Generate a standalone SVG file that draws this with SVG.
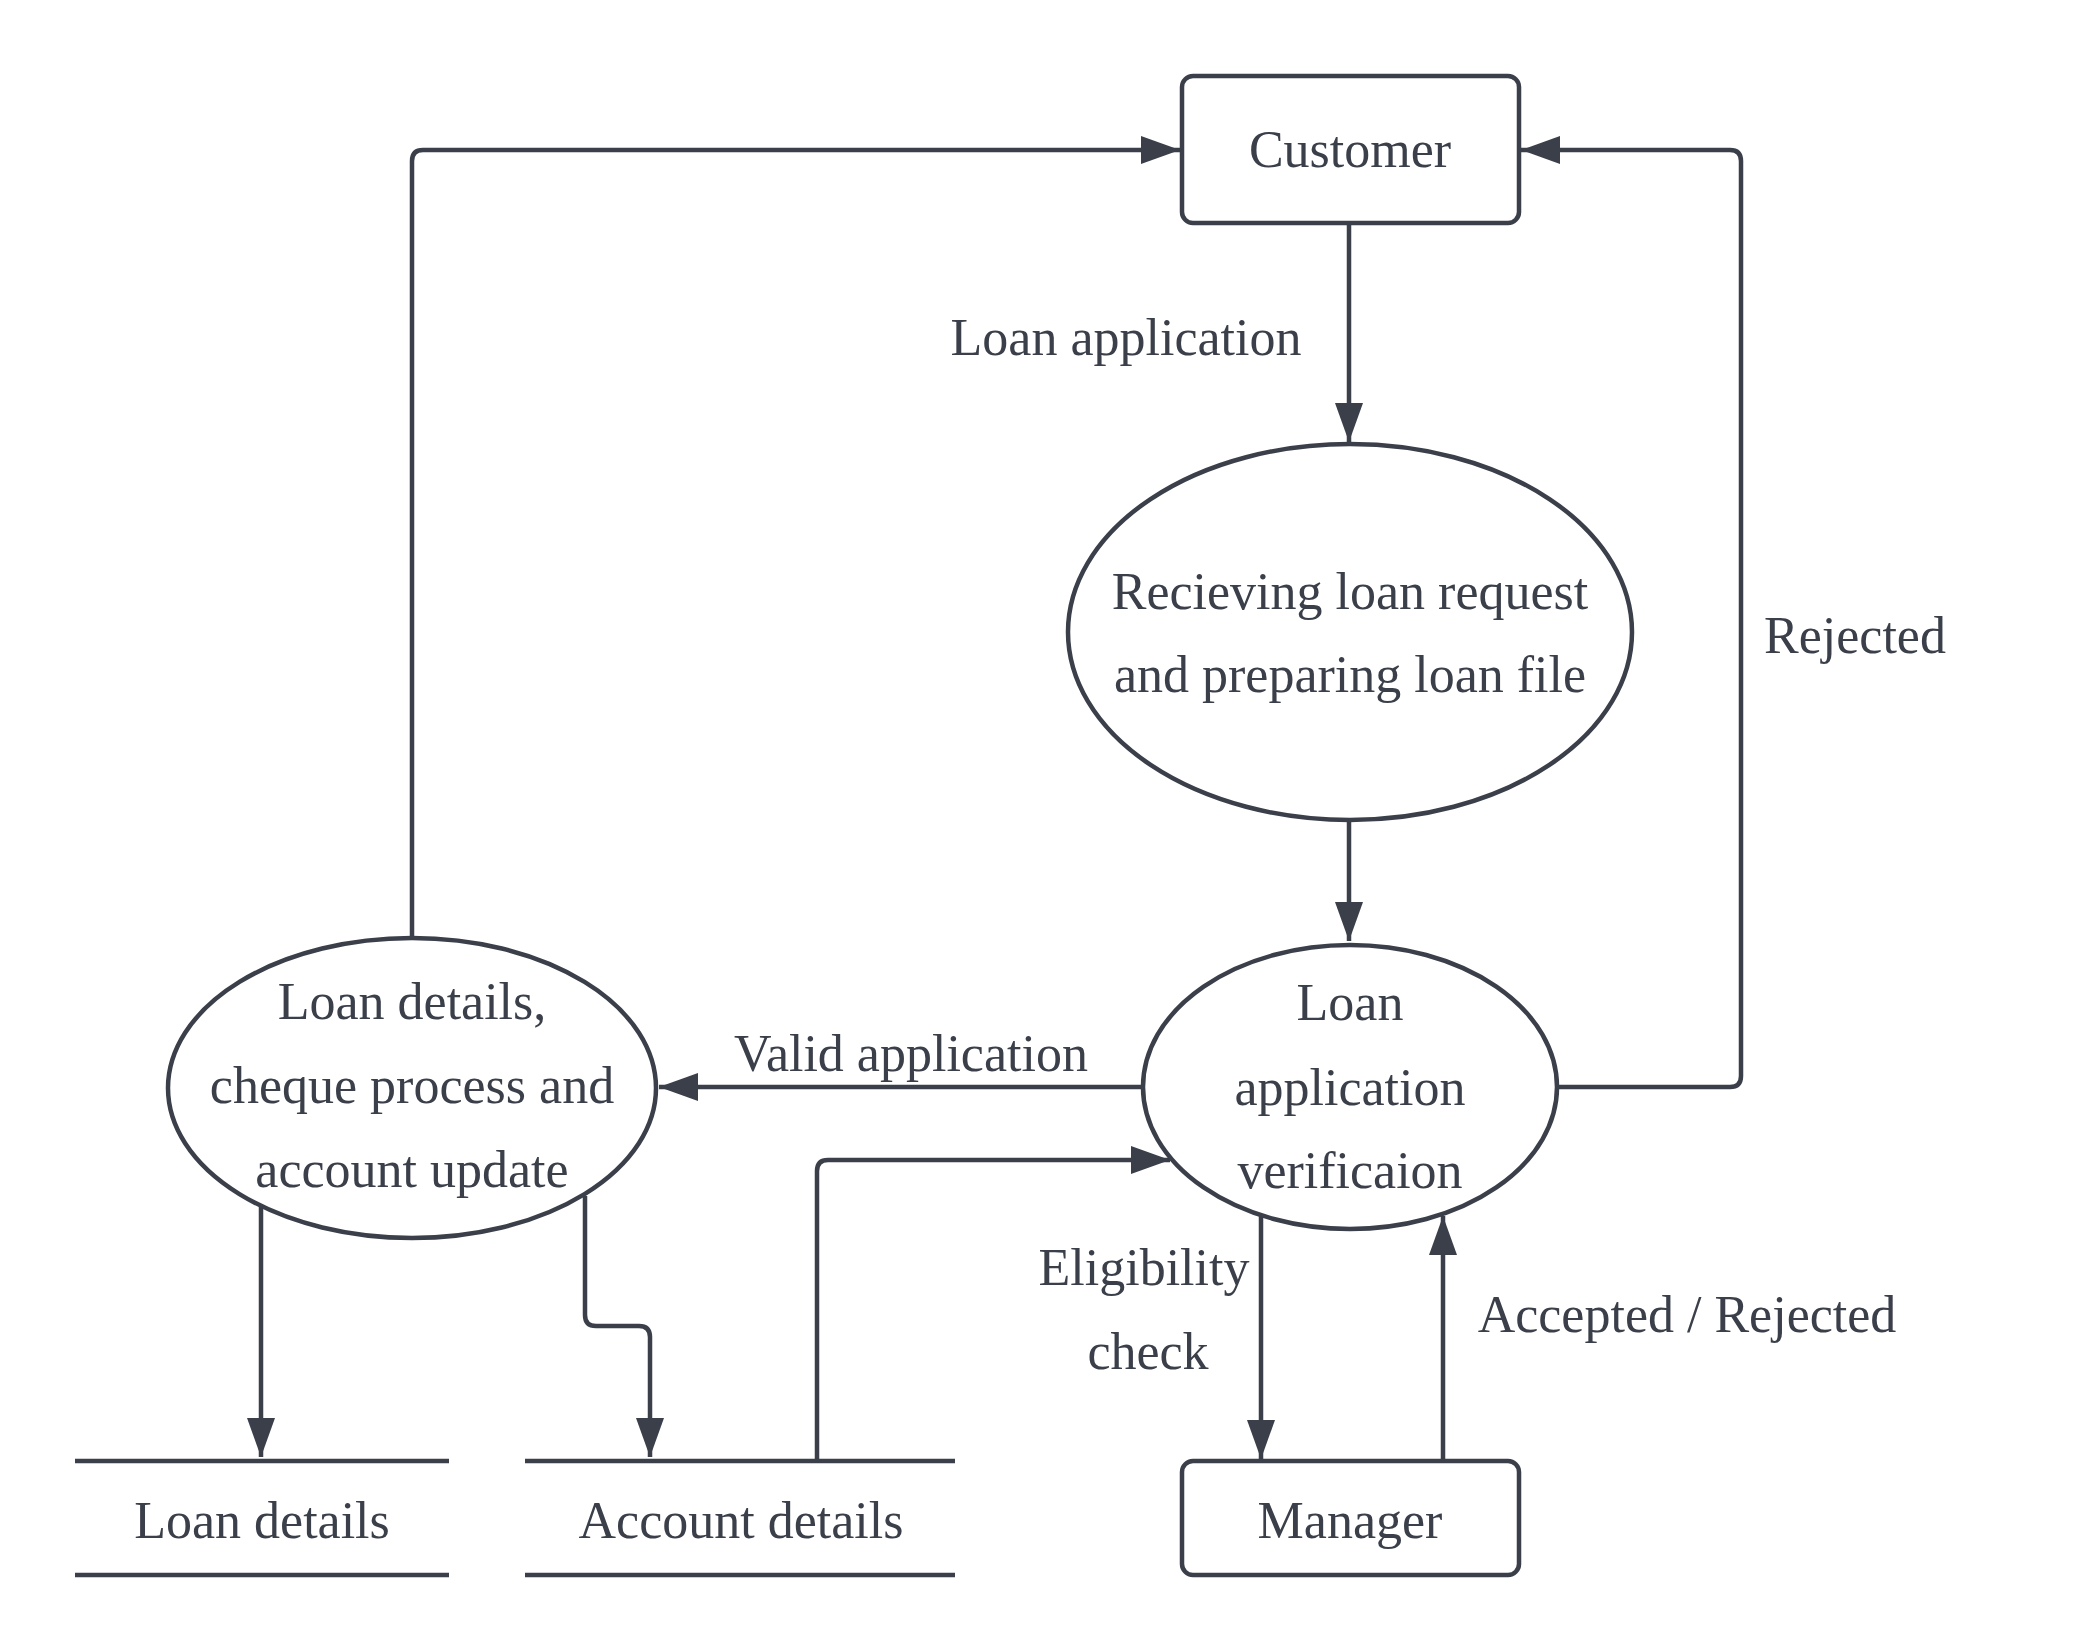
<svg xmlns="http://www.w3.org/2000/svg" width="2100" height="1650" viewBox="0 0 2100 1650">
<defs>
<marker id="arr" markerUnits="userSpaceOnUse" markerWidth="42" markerHeight="30" refX="39" refY="14" orient="auto">
<path d="M0,0 L39,14 L0,28 Z" fill="#3a3f4a"/>
</marker>
<style>
.s{fill:none;stroke:#3a3f4a;stroke-width:4.5;stroke-linejoin:round}
.n{fill:#fff;stroke:#3a3f4a;stroke-width:4.5}
.c{fill:none;stroke:#3a3f4a;stroke-width:4.5;stroke-linejoin:round;marker-end:url(#arr)}
.t{font-family:"Liberation Serif","Times New Roman",serif;font-size:52px;fill:#3a3f4a;text-anchor:middle}
</style>
</defs>
<rect width="2100" height="1650" fill="#fff"/>
<g id="connectors">
<path class="c" d="M1349,224 V442"/>
<path class="c" d="M1349,820 V941"/>
<path class="c" d="M1143,1087 H659"/>
<path class="c" d="M1557,1087 H1730 Q1741,1087 1741,1076 V161 Q1741,150 1730,150 H1521"/>
<path class="c" d="M412,937 V161 Q412,150 423,150 H1180"/>
<path class="c" d="M261,1203 V1457"/>
<path class="c" d="M585,1196 V1315 Q585,1326 596,1326 H639 Q650,1326 650,1337 V1457"/>
<path class="c" d="M817,1461 V1171 Q817,1160 828,1160 H1170"/>
<path class="c" d="M1261,1216 V1459"/>
<path class="c" d="M1443,1461 V1216"/>
</g>
<g id="customer">
<rect class="n" x="1182" y="76" width="337" height="147" rx="11"/>
<text class="t" x="1350" y="167">Customer</text>
</g>
<g id="receiving">
<ellipse class="n" cx="1350" cy="632" rx="282" ry="188"/>
<text class="t" x="1350" y="609">Recieving loan request</text>
<text class="t" x="1350" y="692">and preparing loan file</text>
</g>
<g id="verification">
<ellipse class="n" cx="1350" cy="1087" rx="207" ry="142"/>
<text class="t" x="1350" y="1020">Loan</text>
<text class="t" x="1350" y="1105">application</text>
<text class="t" x="1350" y="1188">verificaion</text>
</g>
<g id="loanprocess">
<ellipse class="n" cx="412" cy="1088" rx="244" ry="150"/>
<text class="t" x="412" y="1019">Loan details,</text>
<text class="t" x="412" y="1103">cheque process and</text>
<text class="t" x="412" y="1187">account update</text>
</g>
<g id="loandetails">
<path class="s" d="M75,1461 H449 M75,1575 H449"/>
<text class="t" x="262" y="1538">Loan details</text>
</g>
<g id="accountdetails">
<path class="s" d="M525,1461 H955 M525,1575 H955"/>
<text class="t" x="741" y="1538">Account details</text>
</g>
<g id="manager">
<rect class="n" x="1182" y="1461" width="337" height="114" rx="11"/>
<text class="t" x="1350" y="1538">Manager</text>
</g>
<g id="labels">
<text class="t" x="1126" y="355">Loan application</text>
<text class="t" x="1855" y="653">Rejected</text>
<text class="t" x="911" y="1071">Valid application</text>
<text class="t" x="1144" y="1285">Eligibility</text>
<text class="t" x="1148" y="1369">check</text>
<text class="t" x="1687" y="1332">Accepted / Rejected</text>
</g>
</svg>
